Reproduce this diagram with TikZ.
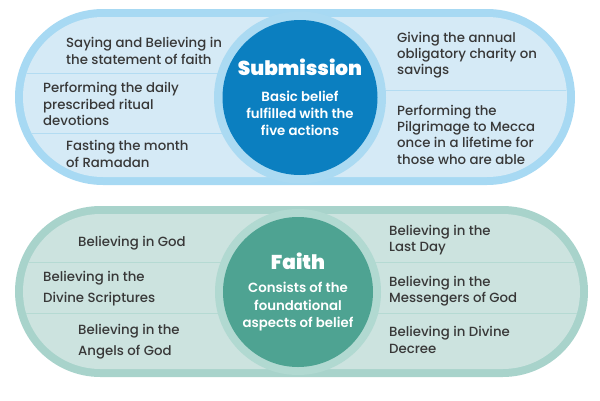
\documentclass[tikz,border=0pt]{standalone}
\usepackage{fontspec}
\setmainfont{Poppins}[UprightFont=* Medium, BoldFont=* SemiBold]
\newfontfamily\heavyfont{Poppins}[UprightFont=* Bold]
\usetikzlibrary{positioning}
\definecolor{subLine}{HTML}{A7D9F3}
\definecolor{subFill}{HTML}{D5EAF6}
\definecolor{subSep}{HTML}{B3DCF2}
\definecolor{subRing}{HTML}{ABDAF2}
\definecolor{subCore}{HTML}{0B7FC0}
\definecolor{faiLine}{HTML}{A8D3CB}
\definecolor{faiFill}{HTML}{CCE3DF}
\definecolor{faiSep}{HTML}{B5DAD3}
\definecolor{faiRing}{HTML}{B1D9D1}
\definecolor{faiCore}{HTML}{4EA392}
\definecolor{ink}{HTML}{383838}
\newcommand\hubtitle[1]{{\heavyfont\fontsize{20}{24}\selectfont #1}}
\tikzset{
  item/.style={anchor=west, align=left, inner sep=0pt, text=ink,
               font=\fontsize{13.3}{16.3}\selectfont},
  ring/.style={circle, inner sep=0pt},
  hub/.style={circle, inner sep=0pt, text=white, align=center,
              font=\bfseries\fontsize{13.3}{17.3}\selectfont},
  sepS/.style={draw=subSep, line width=1pt},
  sepF/.style={draw=faiSep, line width=1pt},
}

\begin{document}
\begin{tikzpicture}[x=1pt, y=-1pt]
  \useasboundingbox (0,0) rectangle (600,400);
  % Submission band
  \fill[subLine, rounded corners=88] (15,9) rectangle (575,185);
  \fill[subFill, rounded corners=80] (23,17) rectangle (567,177);
  \begin{scope}
    \clip[rounded corners=80] (23,17) rectangle (567,177);
    \draw[sepS] (23,73) -- (300,73);
    \draw[sepS] (23,133) -- (300,133);
    \draw[sepS] (300,90) -- (567,90);
  \end{scope}
  \node[ring, fill=subRing, minimum size=172] (subring) at (300,97.5) {};
  \node[hub, fill=subCore, minimum size=155] (sub) at (subring.center)
    {\hubtitle{Submission}\\[8pt]Basic belief\\fulfilled with the\\five actions};
  \node[item] (s1) at (66,51) {Saying and Believing in\\the statement of faith};
  \node[item] (s2) at (43,104) {Performing the daily\\prescribed ritual\\devotions};
  \node[item] (s3) at (66,154) {Fasting the month\\of Ramadan};
  \node[item] (s4) at (397,55) {Giving the annual\\obligatory charity on\\savings};
  \node[item] (s5) at (397,134.5) {Performing the\\Pilgrimage to Mecca\\once in a lifetime for\\those who are able};
  % Faith band
  \fill[faiLine, rounded corners=85.5] (15,206) rectangle (588,377);
  \fill[faiFill, rounded corners=77.5] (23,214) rectangle (580,369);
  \begin{scope}
    \clip[rounded corners=77.5] (23,214) rectangle (580,369);
    \draw[sepF] (23,262) -- (580,262);
    \draw[sepF] (23,313) -- (580,313);
  \end{scope}
  \node[ring, fill=faiRing, minimum size=166] (fairing) at (298,292) {};
  \node[hub, fill=faiCore, minimum size=150] (fai) at (fairing.center)
    {\hubtitle{Faith}\\[6pt]Consists of the\\foundational\\aspects of belief};
  \node[item] (f1) at (78,243) {Believing in God};
  \node[item, font=\fontsize{13.3}{21}\selectfont] (f2) at (43,289) {Believing in the\\Divine Scriptures};
  \node[item, font=\fontsize{13.3}{21}\selectfont] (f3) at (78,342) {Believing in the\\Angels of God};
  \node[item] (f4) at (389,240) {Believing in the\\Last Day};
  \node[item] (f5) at (389,291) {Believing in the\\Messengers of God};
  \node[item] (f6) at (389,340) {Believing in Divine\\Decree};
\end{tikzpicture}
\end{document}
